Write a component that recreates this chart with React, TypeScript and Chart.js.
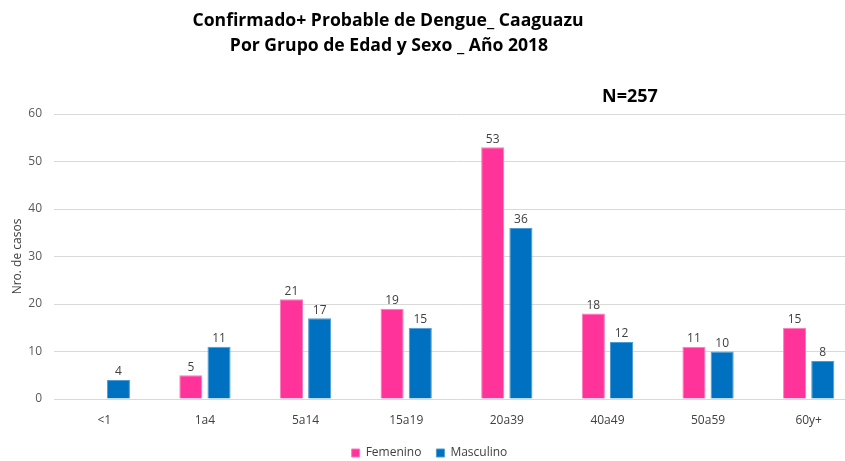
import React, { useEffect, useRef } from "react";
import { Chart, registerables } from "chart.js";

Chart.register(...registerables);

const categories = ["<1", "1a4", "5a14", "15a19", "20a39", "40a49", "50a59", "60y+"];
const femenino: (number | null)[] = [null, 5, 21, 19, 53, 18, 11, 15];
const masculino: (number | null)[] = [4, 11, 17, 15, 36, 12, 10, 8];
const seriesNames = ["Femenino", "Masculino"];
const titleLines = ["Confirmado+ Probable de Dengue_ Caaguazu", "Por Grupo de Edad y Sexo _ Año 2018"];
const noteText = "N=257";
const yAxisTitle = "Nro. de casos";
const yMin = 0;
const yMax = 60;
const yStep = 10;

const FONT = "'Open Sans', 'Noto Sans', sans-serif";

const labelPlugin = {
  id: "barLabels",
  afterDatasetsDraw(chart: any) {
    const ctx = chart.ctx;
    ctx.save();
    ctx.font = `12px ${FONT}`;
    ctx.fillStyle = "#404040";
    ctx.textAlign = "center";
    ctx.textBaseline = "bottom";
    chart.data.datasets.forEach((ds: any, i: number) => {
      const meta = chart.getDatasetMeta(i);
      meta.data.forEach((el: any, j: number) => {
        const v = ds.data[j];
        if (v === null || v === undefined) return;
        ctx.fillText(String(v), el.x, el.y - 2);
      });
    });
    ctx.restore();
  },
};

const titlePlugin = {
  id: "customTitle",
  afterDraw(chart: any) {
    const ctx = chart.ctx;
    ctx.save();
    ctx.fillStyle = "#000000";
    ctx.textAlign = "center";
    ctx.textBaseline = "middle";
    ctx.font = `bold 17.6px ${FONT}`;
    ctx.fillText(titleLines[0], 388, 21);
    ctx.fillText(titleLines[1], 389, 46);
    ctx.font = `bold 18px ${FONT}`;
    ctx.fillText(noteText, 630, 97);
    ctx.restore();
  },
};

export default function App() {
  const ref = useRef<HTMLCanvasElement | null>(null);
  useEffect(() => {
    if (!ref.current) return;
    const chart = new Chart(ref.current, {
      type: "bar",
      data: {
        labels: categories,
        datasets: [
          {
            label: seriesNames[0],
            data: femenino,
            backgroundColor: "#FF3399",
            borderColor: "#FF7ABD",
            borderWidth: 1,
            categoryPercentage: 0.56,
            barPercentage: 0.82,
          },
          {
            label: seriesNames[1],
            data: masculino,
            backgroundColor: "#0070C0",
            borderColor: "#4D9BD3",
            borderWidth: 1,
            categoryPercentage: 0.56,
            barPercentage: 0.82,
          },
        ],
      },
      options: {
        animation: false,
        responsive: false,
        devicePixelRatio: 1,
        layout: { padding: { top: 114, right: 11, left: 0, bottom: 0 } },
        plugins: {
          title: { display: false },
          tooltip: { enabled: false },
          legend: {
            position: "bottom",
            labels: {
              boxWidth: 8,
              boxHeight: 8,
              padding: 15,
              color: "#404040",
              font: { family: FONT, size: 12 },
            },
          },
        },
        scales: {
          x: {
            grid: { display: false },
            border: { display: false },
            ticks: { color: "#404040", font: { family: FONT, size: 12 }, padding: 6 },
            afterFit: (s: any) => {
              s.height = 33;
            },
          },
          y: {
            min: yMin,
            max: yMax,
            ticks: { stepSize: yStep, color: "#595959", font: { family: FONT, size: 12 }, padding: 12 },
            grid: { color: "#D9D9D9", drawTicks: false },
            border: { display: false },
            title: {
              display: true,
              text: yAxisTitle,
              color: "#404040",
              font: { family: FONT, size: 12 },
              padding: { top: 10, bottom: 0 },
            },
            afterFit: (s: any) => {
              s.width = 54;
            },
          },
        },
      },
      plugins: [labelPlugin, titlePlugin],
    });
    return () => chart.destroy();
  }, []);
  return (
    <div style={{ position: "fixed", left: 0, top: 0, width: 845, height: 461, overflow: "hidden", background: "#fff" }}>
      <canvas ref={ref} width={870} height={469} style={{ display: "block", width: 870, height: 469 }} />
    </div>
  );
}
